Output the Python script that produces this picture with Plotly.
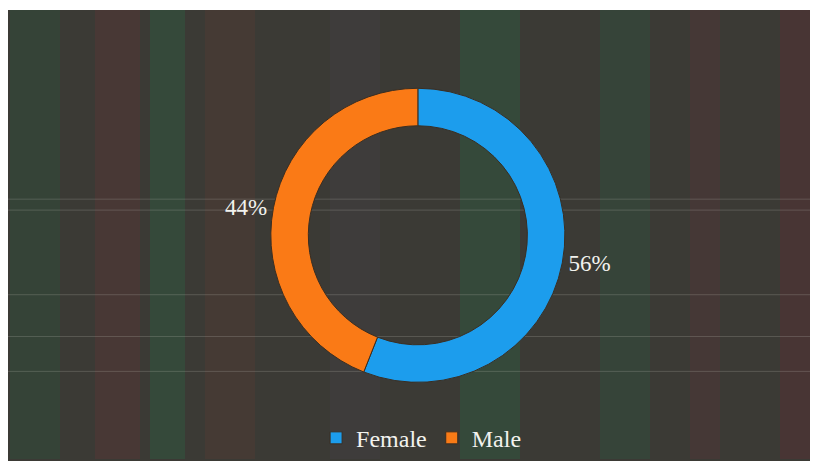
import plotly.graph_objects as go

# data
labels = ['Female', 'Male']
values = [56, 44]
colors = ['#1c9ded', '#fa7a16']

# the page adds an 8px body margin, which gives the white border
W, H = 810, 453

fig = go.Figure()

fig.add_trace(go.Pie(
    labels=labels,
    values=values,
    hole=0.745,
    sort=False,
    direction='clockwise',
    rotation=0,
    marker=dict(colors=colors, line=dict(color='#3a2e22', width=1)),
    textinfo='percent',
    textposition='outside',
    texttemplate='%{percent:.0%}',
    outsidetextfont=dict(family='Liberation Serif', size=23, color='#f2f2ee'),
    domain=dict(x=[0.256, 0.756], y=[0.170, 0.822]),
    hoverinfo='label+percent',
))

shapes = [dict(type='rect', xref='paper', yref='paper',
               x0=0, x1=1, y0=1 - 2 / H, y1=1,
               fillcolor='white', line=dict(width=0), layer='below')]

# faint vertical tint bands (photo artefacts)
bands = [(2, 52, 'rgba(40,90,60,0.30)'), (87, 132, 'rgba(110,50,55,0.25)'),
         (142, 177, 'rgba(40,110,70,0.30)'), (197, 247, 'rgba(110,60,50,0.20)'),
         (322, 372, 'rgba(90,80,110,0.12)'), (452, 512, 'rgba(40,110,70,0.30)'),
         (592, 642, 'rgba(40,100,70,0.25)'), (682, 712, 'rgba(110,50,60,0.20)'),
         (772, 810, 'rgba(110,40,50,0.25)')]
for x0, x1, c in bands:
    shapes.append(dict(type='rect', xref='paper', yref='paper',
                       x0=x0 / W, x1=x1 / W, y0=0, y1=1 - 2 / H,
                       fillcolor=c, line=dict(width=0), layer='below'))

# faint horizontal scan lines
for y in [192, 203, 288, 330, 365]:
    shapes.append(dict(type='line', xref='paper', yref='paper',
                       x0=0, x1=1, y0=1 - y / H, y1=1 - y / H,
                       line=dict(color='rgba(200,200,190,0.22)', width=1),
                       layer='below'))

fig.update_layout(
    width=W, height=H,
    margin=dict(l=0, r=0, t=0, b=0),
    paper_bgcolor='#3b3a35',
    plot_bgcolor='#3b3a35',
    shapes=shapes,
    showlegend=True,
    legend=dict(orientation='h', x=0.51, xanchor='center', y=0.046, yanchor='middle',
                font=dict(family='Liberation Serif', size=24, color='#f2f2ee'),
                bgcolor='rgba(0,0,0,0)', itemwidth=30),
)

fig.write_html("out.html")
